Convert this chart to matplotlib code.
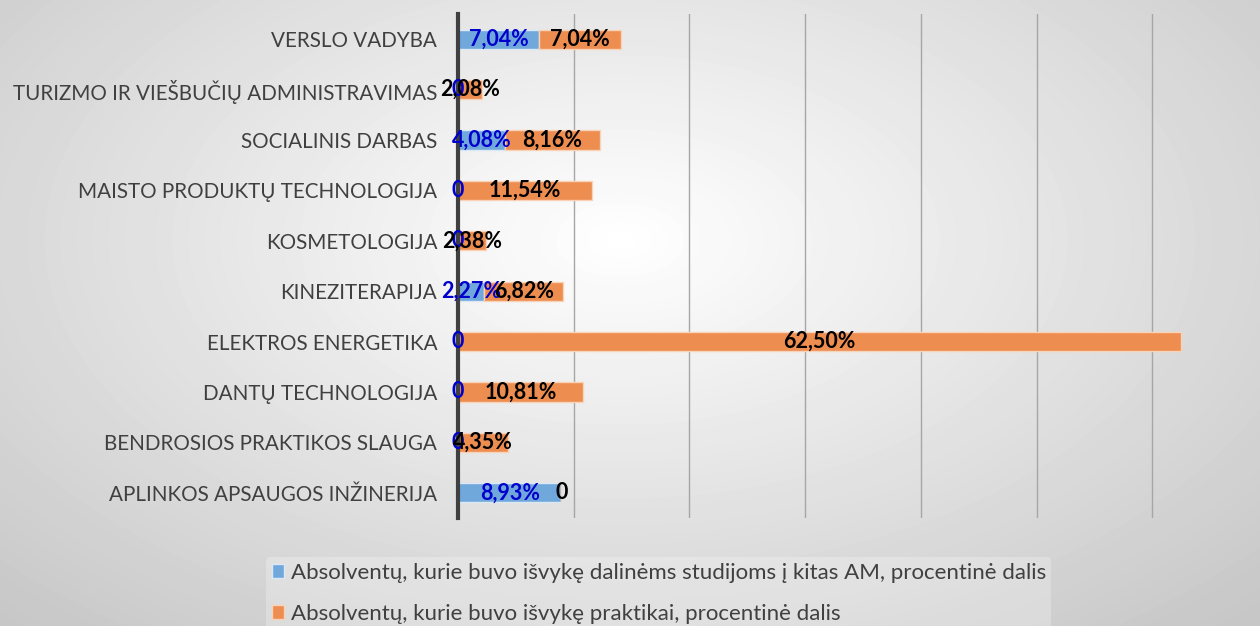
import numpy as np
import matplotlib
matplotlib.use("Agg")
from matplotlib import pyplot as plt

categories = ['VERSLO VADYBA', 'TURIZMO IR VIEŠBUČIŲ ADMINISTRAVIMAS', 'SOCIALINIS DARBAS',
              'MAISTO PRODUKTŲ TECHNOLOGIJA', 'KOSMETOLOGIJA', 'KINEZITERAPIJA',
              'ELEKTROS ENERGETIKA', 'DANTŲ TECHNOLOGIJA', 'BENDROSIOS PRAKTIKOS SLAUGA',
              'APLINKOS APSAUGOS INŽINERIJA']
studijos = [7.04, 0, 4.08, 0, 0, 2.27, 0, 0, 0, 8.93]
praktika = [7.04, 2.08, 8.16, 11.54, 2.38, 6.82, 62.50, 10.81, 4.35, 0]
legendos = ['Absolventų, kurie buvo išvykę dalinėms studijoms į kitas AM, procentinė dalis',
            'Absolventų, kurie buvo išvykę praktikai, procentinė dalis']

plt.rcParams['font.family'] = ['Lato', 'DejaVu Sans']

fig = plt.figure(figsize=(12.6, 6.26), dpi=100)

# fonas - radialinis gradientas
bg = fig.add_axes([0, 0, 1, 1], zorder=-10)
yy, xx = np.mgrid[0:626, 0:1260]
r = np.sqrt(((xx - 620) / 900.0) ** 2 + ((yy - 240) / 520.0) ** 2)
shade = np.clip(1.0 - 0.22 * r, 0.78, 1.0)
bg.imshow(shade, cmap='gray', vmin=0, vmax=1, aspect='auto', interpolation='bilinear')
bg.axis('off')

ax = fig.add_axes([458 / 1260, 1 - 518 / 626, (1245 - 458) / 1260, 504 / 626])
ax.patch.set_alpha(0)

y = np.arange(len(categories))
b1 = ax.barh(y, studijos, height=0.38, color='#70a8dc', edgecolor='#dce9f5', linewidth=1,
             label=legendos[0], zorder=3)
b2 = ax.barh(y, praktika, left=studijos, height=0.38, color='#ee8d50', edgecolor='#f8d3b8',
             linewidth=1, label=legendos[1], zorder=3)

def fmt(v):
    if v == 0:
        return '0'
    return f'{v:.2f}%'.replace('.', ',')

for rect, v in zip(b1, studijos):
    ax.text(rect.get_x() + rect.get_width() / 2, rect.get_y() + rect.get_height() / 2,
            fmt(v), ha='center', va='center', color='#0000cc', fontsize=15.5,
            fontweight='bold', zorder=5)
for rect, v in zip(b2, praktika):
    ax.text(rect.get_x() + rect.get_width() / 2, rect.get_y() + rect.get_height() / 2,
            fmt(v), ha='center', va='center', color='black', fontsize=15.5,
            fontweight='bold', zorder=6)

ax.set_xlim(0, 68)
ax.set_ylim(len(categories) - 0.5, -0.5)
ax.set_xticks(np.arange(10, 70, 10))
ax.set_xticklabels([])
ax.tick_params(axis='x', length=0)
ax.grid(axis='x', color='#a6a6a6', linewidth=1, zorder=1)
ax.set_yticks(y)
ax.set_yticklabels(categories, fontsize=14.9, color='#404040')
ax.tick_params(axis='y', length=0, pad=15)
for s in ['top', 'right', 'bottom']:
    ax.spines[s].set_visible(False)
ax.spines['left'].set_color('#404040')
ax.spines['left'].set_linewidth(3)
ax.spines['left'].set_zorder(4)

leg = fig.legend(loc='upper left', bbox_to_anchor=(255 / 1260, 1 - 546 / 626), frameon=True,
                 fontsize=16, handlelength=0.55, handleheight=0.55, handletextpad=0.3,
                 labelspacing=0.95, borderpad=0.25)
leg.get_frame().set_facecolor('white')
leg.get_frame().set_alpha(0.25)
leg.get_frame().set_edgecolor('none')
for t in leg.get_texts():
    t.set_color('#404040')

fig.savefig('out.png', dpi=100)
